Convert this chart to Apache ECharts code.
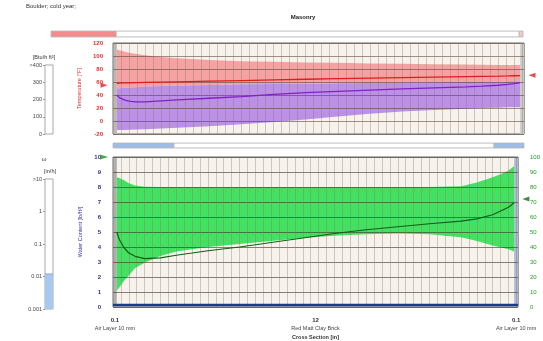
<!DOCTYPE html>
<html>
<head>
<meta charset="utf-8">
<title>Boulder; cold year</title>
<script src="https://cdn.jsdelivr.net/npm/echarts@6/dist/echarts.min.js"></script>
<style>
html, body { margin: 0; padding: 0; background: #fff; }
#chart { width: 543px; height: 341px; }
</style>
</head>
<body>
<div id="chart"></div>
<script>
// positions across the wall [in]
var xs = [0.12, 0.2, 0.35, 0.5, 0.7, 1, 1.5, 2, 3, 4, 5, 6, 7, 8, 9, 10, 11, 11.5, 12, 12.3, 12.5, 12.68];
// temperature [F]
var tempMax  = [110, 109, 107, 105, 103.5, 101, 98.5, 96.5, 94, 92, 91, 90, 89.5, 88.5, 88, 87.5, 87, 86.5, 86, 86, 86, 86];
var tempMean = [58, 58.2, 58.5, 58.8, 59, 59.3, 59.8, 60.3, 61.2, 62.2, 63.2, 64.2, 65.2, 66, 66.8, 67.5, 68.2, 68.6, 69, 69.3, 69.6, 69.8];
// dew point [F]
var dewMax  = [50, 50.5, 51, 51.5, 52, 53, 54, 54.5, 55.5, 56.5, 57, 57.5, 58, 58.5, 59, 59.5, 60, 60, 60.5, 61, 61, 61];
var dewMean = [40, 36, 32.5, 30.5, 29.5, 29.5, 31, 32.5, 35, 37.5, 41, 43.5, 45.5, 47.5, 49.5, 51, 52.5, 53.5, 55, 56.5, 57.5, 59];
var dewMin  = [-14, -14, -14, -13.5, -13, -12.5, -11.5, -10.5, -8, -5, -1.5, 2.5, 7, 11, 14.5, 17, 19, 20, 20.5, 21, 21, 21];
// water content [lb/ft3]
var wcMax  = [8.65, 8.6, 8.45, 8.25, 8.1, 8.02, 8, 8, 8, 8, 8, 8, 8, 8, 8, 8, 8.05, 8.3, 8.65, 8.9, 9.1, 9.4];
var wcMean = [5.0, 4.5, 3.95, 3.6, 3.38, 3.22, 3.28, 3.45, 3.75, 4.0, 4.3, 4.6, 4.9, 5.15, 5.35, 5.55, 5.72, 5.88, 6.15, 6.45, 6.65, 6.95];
var wcMin  = [1.1, 1.3, 1.75, 2.1, 2.6, 2.95, 3.4, 3.7, 4.0, 4.2, 4.4, 4.6, 4.75, 4.85, 4.9, 4.85, 4.65, 4.4, 4.1, 3.95, 3.85, 3.7];
var liquidLine = 0.13;

// boundary conditions
var tempLeft = 55, tempRight = 70.5;
var tempRangeRight = [57, 85];
var wcLeft = 10;
var rhRight = 72;
var rhRangeRight = [34, 85];
var heatFlux = [0];
var rain = [0.012];

// layers / progress bars [%]
var masonryBar = [13.8, 85.4, 0.8];
var sectionBar = [14.8, 77.9, 7.3];
var layerEdges = [0, 0.12, 12.68, 12.8];
var layerThick = ['0.1', '12', '0.1'];
var layerNames = ['Air Layer 10 mm', 'Red Matt Clay Brick', 'Air Layer 10 mm'];

var font = 'Liberation Sans';
var layerMid = [];
for (var i = 0; i < layerThick.length; i++) layerMid.push((layerEdges[i] + layerEdges[i + 1]) / 2);

function pairs(arr) {
  return xs.map(function (x, i) { return [x, arr[i]]; });
}
// min/max envelope drawn as one polygon through the axis scales
function band(low, high, color, gi) {
  return {
    type: 'custom', xAxisIndex: gi, yAxisIndex: gi, z: 2, silent: true, clip: true,
    data: xs.map(function (x, i) { return [x, low[i], high[i]]; }),
    encode: { x: 0, y: [1, 2] },
    renderItem: function (params, api) {
      if (params.dataIndex !== 0) return;
      var pts = [];
      for (var k = 0; k < xs.length; k++) pts.push(api.coord([xs[k], high[k]]));
      for (var k2 = xs.length - 1; k2 >= 0; k2--) pts.push(api.coord([xs[k2], low[k2]]));
      return { type: 'polygon', shape: { points: pts }, style: { fill: color } };
    }
  };
}
function plotX(gi) {
  return {
    gridIndex: gi, type: 'value', min: 0, max: 12.8, interval: 0.25, z: 3,
    axisLine: { show: false }, axisTick: { show: false }, axisLabel: { show: false },
    splitLine: { show: true, lineStyle: { color: 'rgba(130,120,110,0.36)', width: 1 } }
  };
}
function hiddenAxis(gi, type, extra) {
  return Object.assign({
    gridIndex: gi, type: type, show: false,
    splitLine: { show: false }
  }, extra || {});
}
function barSeries(vals, colors, xi, yi) {
  return vals.map(function (v, i) {
    return {
      type: 'bar', stack: 'bar' + xi, xAxisIndex: xi, yAxisIndex: yi, barWidth: '100%',
      data: [v], silent: true,
      itemStyle: { color: colors[i], borderColor: '#a0a0a0', borderWidth: 0.5 }
    };
  });
}

var myChart = echarts.init(document.getElementById('chart'));
var option = {
  animation: false,
  backgroundColor: '#ffffff',
  textStyle: { fontFamily: font },
  graphic: [
    { type: 'text', left: 26, top: 3, style: { text: 'Boulder; cold year;', font: '6px ' + font, fill: '#333' } },
    { type: 'text', x: 303, y: 17, style: { text: 'Masonry', font: 'bold 6px ' + font, fill: '#222', align: 'center', verticalAlign: 'middle' } },
    { type: 'text', x: 44, y: 57, style: { text: '[Btu/h ft\u00b2]', font: '5.5px ' + font, fill: '#333', align: 'center', verticalAlign: 'middle' } },
    { type: 'text', x: 44, y: 159, style: { text: '\u03c9', font: '6px ' + font, fill: '#333', align: 'center', verticalAlign: 'middle' } },
    { type: 'text', x: 50, y: 171, style: { text: '[in/h]', font: '5.5px ' + font, fill: '#333', align: 'center', verticalAlign: 'middle' } }
  ],
  grid: [
    { left: 113, top: 43, width: 411, height: 91, show: true, backgroundColor: '#f7f3ec', borderColor: '#6a6a6a', borderWidth: 1 },
    { left: 113, top: 157, width: 411, height: 152, show: true, backgroundColor: '#f7f3ec', borderColor: '#6a6a6a', borderWidth: 1 },
    { left: 45, top: 65, width: 8, height: 69, show: true, backgroundColor: '#fff', borderColor: '#a8a8a8', borderWidth: 1 },
    { left: 45, top: 179, width: 8, height: 130, show: true, backgroundColor: '#fff', borderColor: '#a8a8a8', borderWidth: 1 },
    { left: 51, top: 31, width: 472, height: 6, show: true, backgroundColor: '#fff', borderColor: '#b0b0b0', borderWidth: 0.5 },
    { left: 113, top: 143, width: 411, height: 5, show: true, backgroundColor: '#fff', borderColor: '#b0b0b0', borderWidth: 0.5 }
  ],
  xAxis: [
    plotX(0),
    plotX(1),
    hiddenAxis(2, 'category', { data: ['q'] }),
    hiddenAxis(3, 'category', { data: ['a', 'b'], boundaryGap: false }),
    hiddenAxis(4, 'value', { min: 0, max: 100 }),
    hiddenAxis(5, 'value', { min: 0, max: 100 }),
    {
      gridIndex: 1, type: 'value', min: 0, max: 12.8, position: 'bottom',
      axisLine: { show: false }, axisTick: { show: false }, splitLine: { show: false },
      axisLabel: {
        customValues: layerMid, margin: 9, interval: 0,
        formatter: function (v, idx) {
          var k = layerMid.indexOf(v);
          if (k < 0) k = idx;
          return '{a|' + layerThick[k] + '}\n{b|' + layerNames[k] + '}';
        },
        rich: {
          a: { fontSize: 6, fontWeight: 'bold', color: '#333', lineHeight: 8, fontFamily: font },
          b: { fontSize: 5.5, color: '#444', lineHeight: 8, fontFamily: font }
        }
      },
      name: 'Cross Section [in]', nameLocation: 'middle', nameGap: 27,
      nameTextStyle: { fontSize: 5.5, fontWeight: 'bold', color: '#333', fontFamily: font }
    }
  ],
  yAxis: [
    {
      gridIndex: 0, type: 'value', min: -20, max: 120, interval: 20, z: 3,
      axisLine: { show: false }, axisTick: { show: false },
      axisLabel: { color: '#e03030', fontSize: 6, fontWeight: 'bold', margin: 10 },
      splitLine: { show: true, lineStyle: { color: 'rgba(80,60,45,0.55)', width: 1 } },
      name: 'Temperature [\u00b0F]', nameLocation: 'middle', nameGap: 25, nameRotate: 90,
      nameTextStyle: { color: '#e03030', fontSize: 5.5 }
    },
    {
      gridIndex: 1, type: 'value', min: 0, max: 10, interval: 1, z: 3,
      axisLine: { show: false }, axisTick: { show: false },
      axisLabel: { color: '#303090', fontSize: 6, fontWeight: 'bold', margin: 12 },
      splitLine: { show: true, lineStyle: { color: 'rgba(60,50,40,0.6)', width: 1 } },
      name: 'Water Content [lb/ft\u00b3]', nameLocation: 'middle', nameGap: 25, nameRotate: 90,
      nameTextStyle: { color: '#3434b8', fontSize: 5.5 }
    },
    {
      gridIndex: 1, type: 'value', min: 0, max: 100, interval: 10, position: 'right',
      axisLine: { show: false }, axisTick: { show: false }, splitLine: { show: false },
      axisLabel: { color: '#22a022', fontSize: 6, margin: 12, align: 'left' }
    },
    {
      gridIndex: 2, type: 'value', min: 0, max: 400, interval: 100,
      axisLine: { show: false }, splitLine: { show: false },
      axisTick: { show: true, length: 2, lineStyle: { color: '#999' } },
      axisLabel: { color: '#444', fontSize: 5.5, margin: 3, formatter: function (v) { return v === 400 ? '>400' : v; } }
    },
    {
      gridIndex: 3, type: 'log', logBase: 10, min: 0.001, max: 10,
      axisLine: { show: false }, splitLine: { show: false },
      axisTick: { show: true, length: 2, lineStyle: { color: '#999' } },
      axisLabel: { color: '#444', fontSize: 5.5, margin: 3, formatter: function (v) { return v >= 10 ? '>10' : v; } }
    },
    hiddenAxis(4, 'category', { data: ['m'] }),
    hiddenAxis(5, 'category', { data: ['s'] })
  ],
  series: [
    band(dewMax, tempMax, '#f6a2a2', 0),
    band(dewMin, dewMax, '#bb90e6', 0),
    band(wcMin, wcMax, '#44e062', 1),
    {
      type: 'line', xAxisIndex: 0, yAxisIndex: 0, data: pairs(tempMean), symbol: 'none', z: 5,
      lineStyle: { color: '#e01c1c', width: 1.3 },
      markArea: {
        silent: true,
        data: [
          [{ xAxis: 0, itemStyle: { color: '#bdb6b4' } }, { xAxis: layerEdges[1] }],
          [{ xAxis: layerEdges[2], itemStyle: { color: '#cfcaca' } }, { xAxis: 12.8 }]
        ]
      }
    },
    { type: 'line', xAxisIndex: 0, yAxisIndex: 0, data: pairs(dewMean), symbol: 'none', z: 5, lineStyle: { color: '#8420c4', width: 1.3 } },
    {
      type: 'line', xAxisIndex: 1, yAxisIndex: 1, data: pairs(wcMean), symbol: 'none', z: 5,
      lineStyle: { color: '#116011', width: 1.2 },
      markArea: {
        silent: true,
        data: [
          [{ xAxis: 0, itemStyle: { color: '#b0aeac' } }, { xAxis: layerEdges[1] }],
          [{ xAxis: layerEdges[2], itemStyle: { color: '#aebad4' } }, { xAxis: 12.8 }]
        ]
      }
    },
    {
      type: 'line', xAxisIndex: 1, yAxisIndex: 1, symbol: 'none', z: 6,
      data: [[0, liquidLine], [12.8, liquidLine]], lineStyle: { color: '#1c3a8c', width: 2.5 }
    },
    // boundary markers
    { type: 'scatter', xAxisIndex: 0, yAxisIndex: 0, clip: false, data: [[-0.28, tempLeft]], symbol: 'triangle', symbolSize: [5, 7], symbolRotate: -90, itemStyle: { color: '#e02020' }, z: 6 },
    { type: 'scatter', xAxisIndex: 0, yAxisIndex: 0, clip: false, data: [[13.05, tempRight]], symbol: 'triangle', symbolSize: [5, 7], symbolRotate: 90, itemStyle: { color: '#e02020' }, z: 6 },
    { type: 'line', xAxisIndex: 0, yAxisIndex: 0, clip: false, symbol: 'none', data: [[12.93, tempRangeRight[0]], [12.93, tempRangeRight[1]]], lineStyle: { color: '#f4b6b6', width: 3 }, z: 5 },
    { type: 'scatter', xAxisIndex: 1, yAxisIndex: 1, clip: false, data: [[-0.28, wcLeft]], symbol: 'triangle', symbolSize: [5, 8], symbolRotate: -90, itemStyle: { color: '#22902a' }, z: 6 },
    { type: 'line', xAxisIndex: 1, yAxisIndex: 2, clip: false, symbol: 'none', data: [[12.93, rhRangeRight[0]], [12.93, rhRangeRight[1]]], lineStyle: { color: '#bdeebd', width: 3 }, z: 5 },
    { type: 'scatter', xAxisIndex: 1, yAxisIndex: 2, clip: false, data: [[13.05, rhRight]], symbol: 'triangle', symbolSize: [5, 7], symbolRotate: 90, itemStyle: { color: '#156a1a' }, z: 6 },
    // side bars
    { type: 'bar', xAxisIndex: 2, yAxisIndex: 3, data: heatFlux, barWidth: '100%', itemStyle: { color: '#f08080' } },
    {
      type: 'line', xAxisIndex: 3, yAxisIndex: 4, data: [rain[0], rain[0]], symbol: 'none',
      lineStyle: { color: '#7a9ed6', width: 0.8 }, areaStyle: { color: '#a9c8ef', opacity: 1, origin: 'start' }
    }
  ].concat(
    barSeries(masonryBar, ['#f48c8c', '#ffffff', '#f7c8c8'], 4, 5),
    barSeries(sectionBar, ['#9dbde9', '#ffffff', '#9dbde9'], 5, 6)
  )
};
myChart.setOption(option);
</script>
</body>
</html>
